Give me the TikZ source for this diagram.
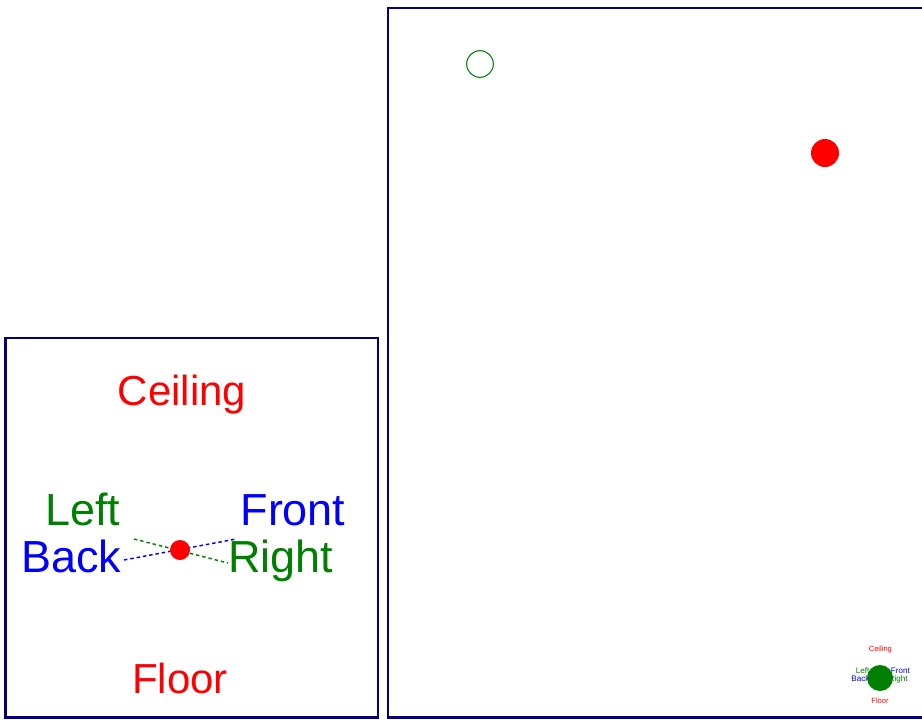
\documentclass[tikz,border=0pt]{standalone}
\usepackage{fontspec}
\setmainfont{Liberation Sans}
\usepackage{xcolor}
\definecolor{navyline}{RGB}{0,0,128}
\definecolor{dirgreen}{RGB}{0,128,0}
\definecolor{dirblue}{RGB}{0,0,255}
\definecolor{dirred}{RGB}{255,0,0}
\usepackage{tikz}
\usetikzlibrary{positioning}

\begin{document}
\begin{tikzpicture}[
    x=0.75pt, y=-0.75pt,
    frame/.style={draw=navyline, line width=1.9pt},
    vlabel/.style={anchor=base, inner sep=0pt, text=dirred, font=\fontsize{31.5}{36}\selectfont},
    hlabel/.style={anchor=base, inner sep=0pt, font=\fontsize{33.7}{38}\selectfont},
    guide/.style={line width=1.1pt, dash pattern=on 2.6pt off 2.2pt},
    spot/.style={circle, fill=dirred, inner sep=0pt, minimum size=15pt}
  ]
  \useasboundingbox (0,0) rectangle (922,719);

  % Frames
  \draw[frame] (5.3,338) rectangle (378,717.5);
  \draw[frame] (930,8) -- (388,8) -- (388,717.5) -- (930,717.5);

  % Orientation key
  \node[vlabel] (ceiling) at (182,405) {Ceiling};
  \node[vlabel] (floor) at (180,693) {Floor};
  \node[hlabel, text=dirgreen] (left) at (83,525) {Left};
  \node[hlabel, text=dirblue] (front) at (293,525) {Front};
  \node[hlabel, text=dirblue] (back) at (71,572) {Back};
  \node[hlabel, text=dirgreen] (right) at (281,572) {Right};

  \coordinate (gl) at (134,539);
  \coordinate (gr) at (228,563);
  \coordinate (bl) at (124,560);
  \coordinate (br) at (236,539);
  \draw[guide, dirgreen] (gl) -- (gr);
  \draw[guide, dirblue] (bl) -- (br);
  \node[spot] (pos) at (180,550) {};

  % Room view
  \node[circle, draw=dirgreen, line width=0.8pt, inner sep=0pt, minimum size=20pt] (cur) at (480,64) {};
  \node[spot, minimum size=21pt] (tgt) at (825,153) {};

  % Small key
  \begin{scope}[shift={(847.6,579)}, scale=0.18, transform shape]
    \node[vlabel] (mceiling) at (182,405) {Ceiling};
    \node[vlabel] (mfloor) at (180,693) {Floor};
    \node[hlabel, text=dirgreen] (mleft) at (83,525) {Left};
    \node[hlabel, text=dirblue] (mfront) at (293,525) {Front};
    \node[hlabel, text=dirblue] (mback) at (71,572) {Back};
    \node[hlabel, text=dirgreen] (mright) at (281,572) {Right};
  \end{scope}
  \node[circle, fill=dirgreen, inner sep=0pt, minimum size=19.5pt] (mpos) at (880,678) {};

\end{tikzpicture}
\end{document}
